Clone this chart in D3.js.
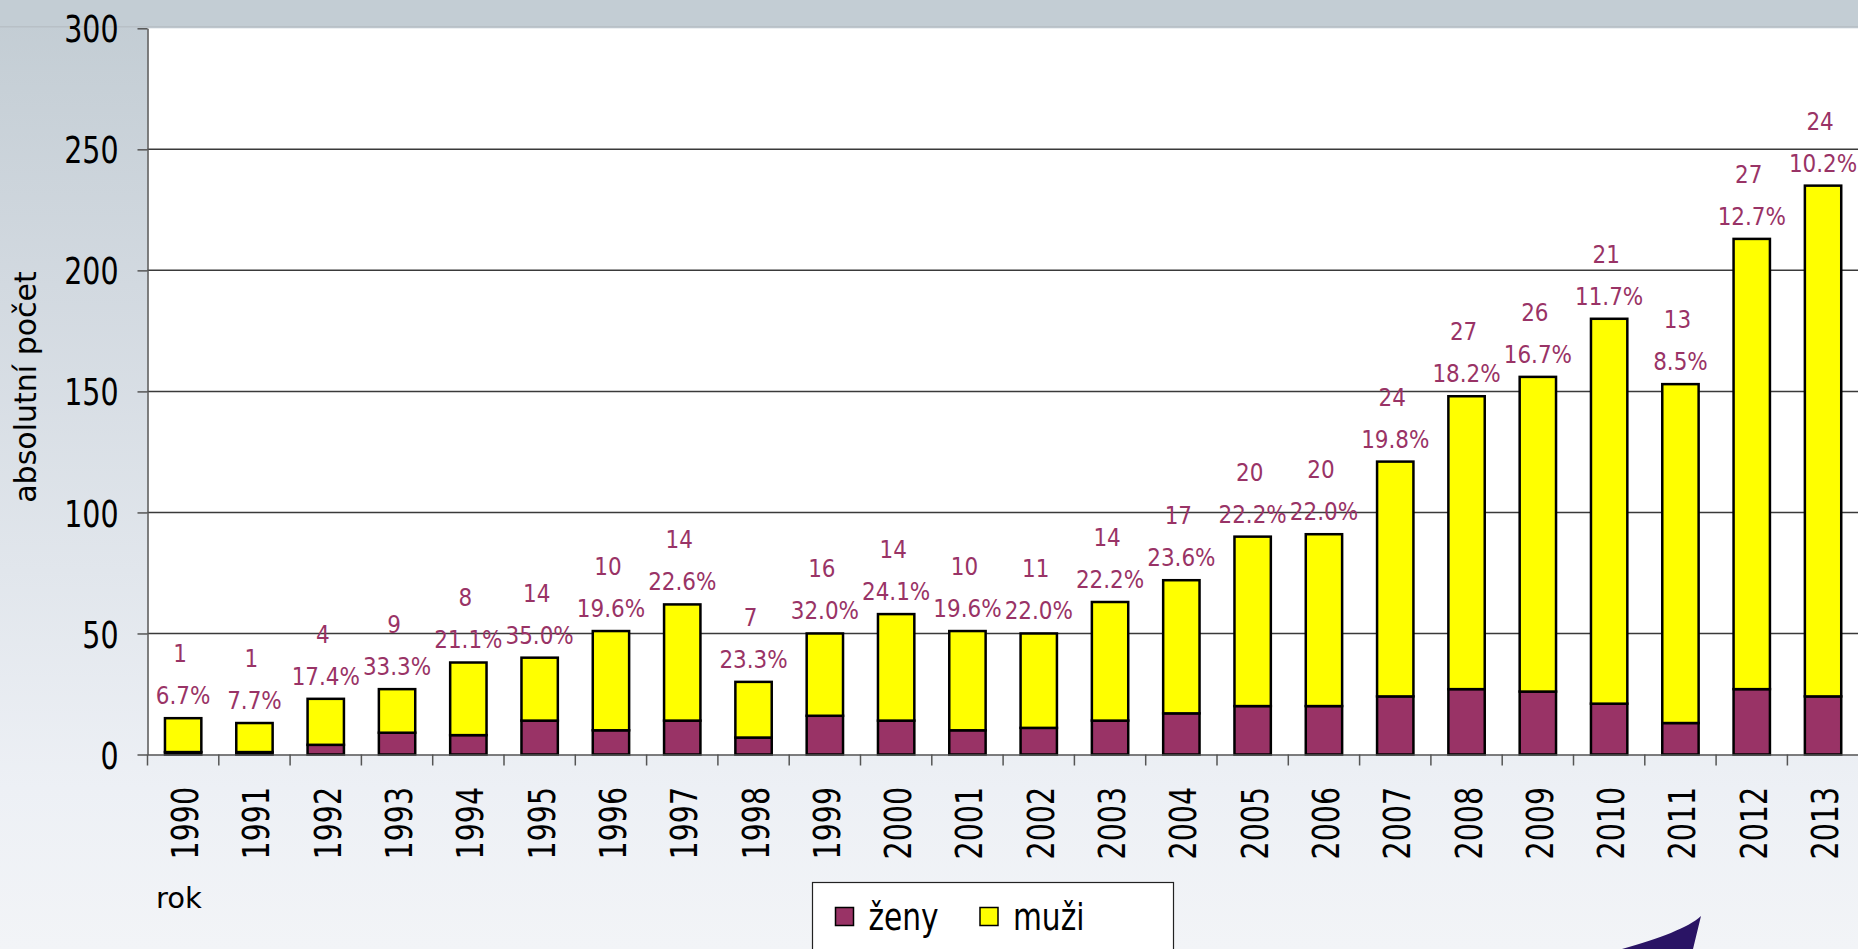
<!DOCTYPE html>
<html>
<head>
<meta charset="utf-8">
<script src="https://d3js.org/d3.v7.min.js"></script>
<style>
  body { margin: 0; overflow: hidden; background: #eef1f5; }
  svg { display: block; }
  text { font-family: "DejaVu Sans", Verdana, sans-serif; }
</style>
</head>
<body>
<script>
// data
var years = ["1990", "1991", "1992", "1993", "1994", "1995", "1996", "1997", "1998", "1999", "2000", "2001",
             "2002", "2003", "2004", "2005", "2006", "2007", "2008", "2009", "2010", "2011", "2012", "2013"];
var zeny = [1, 1, 4, 9, 8, 14, 10, 14, 7, 16, 14, 10, 11, 14, 17, 20, 20, 24, 27, 26, 21, 13, 27, 24];
var muzi = [14, 12, 19, 18, 30, 26, 41, 48, 23, 34, 44, 41, 39, 49, 55, 70, 71, 97, 121, 130, 159, 140, 186, 211];
var yTicks = [0, 50, 100, 150, 200, 250, 300];
var seriesKeys = ["zeny", "muzi"];
var seriesNames = ["ženy", "muži"];
var seriesColors = ["#993366", "#ffff00"];

var W = 1858, H = 949;
var margin = {top: 28.3, left: 147.5, bottom: 194.5};
var plotRight = margin.left + 24 * 71.3;
var y0 = H - margin.bottom;

var rows = years.map(function(d, i) {
  return {year: d, zeny: zeny[i], muzi: muzi[i], total: zeny[i] + muzi[i]};
});

var svg = d3.select("body").append("svg")
    .attr("width", W)
    .attr("height", H);

// background gradient of the slide
var defs = svg.append("defs");
var grad = defs.append("linearGradient")
    .attr("id", "bg").attr("x1", 0).attr("y1", 0).attr("x2", 0).attr("y2", 1);
[[0, "#c2ccd3"], [0.3, "#d2d9e0"], [0.6, "#e1e6ec"], [0.83, "#edf0f5"], [1, "#f2f4f7"]].forEach(function(s) {
  grad.append("stop").attr("offset", s[0]).attr("stop-color", s[1]);
});
svg.append("rect").attr("width", W).attr("height", H).attr("fill", "url(#bg)");

// top band
svg.append("rect").attr("width", W).attr("height", 27).attr("fill", "#c3cdd4");
svg.append("rect").attr("y", 26).attr("width", W).attr("height", 1.5).attr("fill", "#b8c0c6");

var x = d3.scaleBand()
    .domain(years)
    .range([margin.left, plotRight])
    .paddingInner(0.49)
    .paddingOuter(0.245);

var y = d3.scaleLinear()
    .domain([0, 300])
    .range([y0, margin.top]);

// plot area
svg.append("rect")
    .attr("x", margin.left).attr("y", y(300))
    .attr("width", W - margin.left).attr("height", y(0) - y(300))
    .attr("fill", "#ffffff");

// gridlines
svg.append("g").selectAll("line")
    .data(yTicks.filter(function(d) { return d > 0 && d < 300; }))
    .enter().append("line")
    .attr("x1", margin.left).attr("x2", W)
    .attr("y1", function(d) { return y(d); })
    .attr("y2", function(d) { return y(d); })
    .attr("stroke", "#3a3a3a")
    .attr("stroke-width", 1.5);

// stacked bars
var stack = d3.stack().keys(seriesKeys);
var layers = stack(rows);

svg.append("g").selectAll("g")
  .data(layers)
  .enter().append("g")
    .attr("fill", function(d, i) { return seriesColors[i]; })
  .selectAll("rect")
  .data(function(d) { return d; })
  .enter().append("rect")
    .attr("x", function(d) { return x(d.data.year); })
    .attr("y", function(d) { return y(d[1]); })
    .attr("width", x.bandwidth())
    .attr("height", function(d) { return y(d[0]) - y(d[1]); })
    .attr("stroke", "#000")
    .attr("stroke-width", 2.5);

// y axis
var yAxis = svg.append("g")
    .attr("transform", "translate(" + margin.left + ",0)")
    .call(d3.axisLeft(y).tickValues(yTicks).tickSize(10).tickSizeOuter(0));
yAxis.select(".domain").attr("stroke", "#555").attr("stroke-width", 1.5);
yAxis.selectAll(".tick line").attr("stroke", "#555").attr("stroke-width", 1.5);
yAxis.selectAll(".tick text")
    .attr("x", null)
    .attr("dy", "0.36em")
    .attr("transform", "translate(-29,0) scale(0.755,1)")
    .attr("fill", "#000")
    .style("font-size", "37.7px");

// x axis
var xAxis = svg.append("g")
    .attr("transform", "translate(0," + y0 + ")")
    .call(d3.axisBottom(x).tickSize(0).tickSizeOuter(0));
xAxis.select(".domain").attr("stroke", "#555").attr("stroke-width", 1.5);
xAxis.selectAll(".tick text")
    .attr("y", null)
    .attr("dy", null)
    .attr("text-anchor", "end")
    .attr("transform", "translate(15,32.5) rotate(-90) scale(0.755,1)")
    .attr("fill", "#000")
    .style("font-size", "37.7px");

// category separators below the axis
xAxis.append("g").selectAll("line")
    .data(years)
    .enter().append("line")
    .attr("x1", function(d) { return x(d) + x.bandwidth() / 2 - x.step() / 2; })
    .attr("x2", function(d) { return x(d) + x.bandwidth() / 2 - x.step() / 2; })
    .attr("y1", 0).attr("y2", 11)
    .attr("stroke", "#555")
    .attr("stroke-width", 1.5);

// data labels: women count and share of women
var pct = d3.format(".1%");
var labels = svg.append("g")
    .attr("fill", "#993366")
    .style("font-size", "24.7px")
    .attr("text-anchor", "middle");

labels.selectAll("text.pct")
  .data(rows)
  .enter().append("text")
    .attr("class", "pct")
    .attr("dy", "0.36em")
    .attr("transform", function(d) {
      return "translate(" + (x(d.year) + x.bandwidth() / 2) + "," + (y(d.total) - 23) + ") scale(0.87,1)";
    })
    .text(function(d) { return pct(d.zeny / d.total); });

labels.selectAll("text.cnt")
  .data(rows)
  .enter().append("text")
    .attr("class", "cnt")
    .attr("dy", "0.36em")
    .attr("transform", function(d) {
      return "translate(" + (x(d.year) + x.bandwidth() / 2 - 3) + "," + (y(d.total) - 65) + ") scale(0.87,1)";
    })
    .text(function(d) { return d.zeny; });

// axis titles
svg.append("text")
    .attr("transform", "translate(36," + 387 + ") rotate(-90)")
    .attr("text-anchor", "middle")
    .style("font-size", "30px")
    .text("absolutní počet");

svg.append("text")
    .attr("x", 156).attr("y", 908)
    .style("font-size", "29px")
    .text("rok");

// legend
var legend = svg.append("g").attr("transform", "translate(812.5,882.5)");
legend.append("rect")
    .attr("width", 361).attr("height", 90)
    .attr("fill", "#fff")
    .attr("stroke", "#222").attr("stroke-width", 1.2);

var item = legend.selectAll("g.item")
    .data(seriesNames)
    .enter().append("g")
    .attr("class", "item")
    .attr("transform", function(d, i) { return "translate(" + (23 + i * 144.5) + ",25)"; });
item.append("rect")
    .attr("width", 18).attr("height", 18)
    .attr("fill", function(d, i) { return seriesColors[i]; })
    .attr("stroke", "#000").attr("stroke-width", 1.5);
item.append("text")
    .attr("transform", "translate(33,22.5) scale(0.78,1)")
    .style("font-size", "38px")
    .text(function(d) { return d; });

// decoration from the slide template (bottom right)
svg.append("path")
    .attr("d", "M1701,916 C1688,928 1660,938 1622,949 L1693,949 Z")
    .attr("fill", "#2a1465");
</script>
</body>
</html>
